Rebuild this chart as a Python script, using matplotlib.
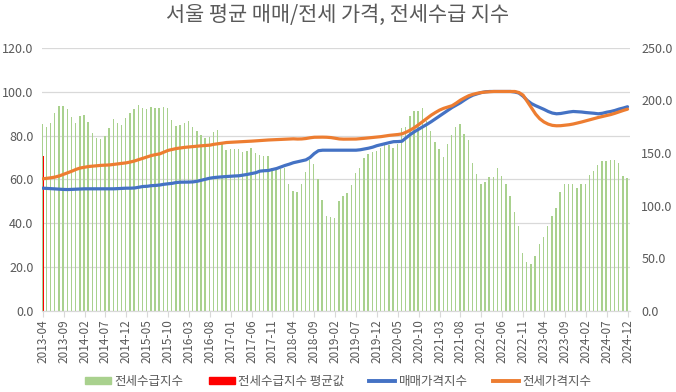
import numpy as np
import pandas as pd
import matplotlib
matplotlib.use('Agg')
import matplotlib.pyplot as plt
from matplotlib.ticker import FormatStrFormatter
from matplotlib.patches import Patch
from matplotlib.lines import Line2D

plt.rcParams['font.family'] = ['Noto Sans CJK KR', 'DejaVu Sans']

# monthly categories 2013-04 .. 2024-12
months = pd.date_range('2013-04-01', '2024-12-01', freq='MS').strftime('%Y-%m').tolist()

# 전세수급지수 (left axis)
supply = [85.1, 83.7, 85.5, 90.1, 93.3, 93.3, 91.9, 88.3, 85.5, 88.7,
          89.2, 86.0, 81.0, 78.7, 78.2, 79.6, 83.3, 87.4, 85.5, 84.6,
          87.8, 90.1, 91.9, 93.8, 92.4, 91.9, 92.8, 92.4, 92.4, 92.8,
          92.4, 86.9, 84.2, 84.6, 85.5, 86.5, 83.7, 81.9, 80.1, 78.7,
          79.1, 81.4, 82.3, 76.0, 73.2, 73.7, 73.7, 73.7, 72.3, 72.8,
          74.1, 71.8, 70.9, 70.5, 70.5, 65.0, 64.1, 64.5, 65.0, 57.7,
          54.9, 54.0, 58.1, 63.2, 68.6, 66.8, 60.0, 50.8, 43.5, 42.6,
          42.2, 49.9, 52.2, 53.6, 57.2, 62.7, 65.4, 69.6, 71.4, 72.3,
          72.8, 74.1, 75.5, 75.5, 74.1, 76.0, 83.3, 83.7, 88.7, 91.0,
          91.4, 92.4, 86.5, 81.9, 76.9, 73.7, 70.0, 76.0, 80.1, 83.7,
          85.1, 80.5, 77.8, 67.3, 62.3, 57.7, 58.7, 60.9, 60.9, 65.0,
          61.3, 58.1, 52.2, 44.9, 38.5, 26.2, 22.5, 21.6, 24.8, 30.3,
          33.9, 38.5, 43.5, 46.7, 54.0, 57.7, 57.7, 58.1, 55.9, 57.7,
          57.7, 61.8, 63.6, 66.4, 68.2, 68.2, 68.6, 68.6, 67.3, 61.3,
          60.4]

# 전세수급지수 평균값 (only the first category)
supply_avg = [70.5] + [np.nan] * (len(months) - 1)

# 매매가격지수 (right axis)
sale_idx = [116.6, 116.4, 116.2, 115.9, 115.6, 115.4, 115.3, 115.5, 115.8, 116.0,
            116.0, 116.0, 116.0, 116.0, 116.0, 116.0, 116.0, 116.0, 116.2, 116.5,
            116.6, 116.6, 116.8, 117.5, 118.2, 118.4, 119.0, 119.2, 119.6, 120.3,
            120.7, 121.2, 122.0, 122.3, 122.3, 122.4, 122.6, 123.2, 124.2, 125.2,
            126.1, 126.7, 127.1, 127.4, 127.7, 128.0, 128.2, 128.4, 129.0, 129.7,
            130.5, 131.3, 132.8, 133.2, 133.4, 134.3, 135.3, 136.8, 138.2, 139.4,
            140.8, 141.7, 142.5, 143.5, 145.8, 149.5, 152.2, 152.7, 152.7, 152.7,
            152.7, 152.7, 152.7, 152.7, 152.7, 152.7, 153.1, 153.8, 154.6, 155.6,
            157.0, 158.0, 158.9, 159.9, 160.8, 160.9, 161.2, 164.5, 167.6, 170.3,
            172.7, 175.0, 177.3, 179.8, 182.5, 185.2, 188.0, 190.6, 193.3, 195.6,
            197.8, 200.5, 203.0, 205.0, 206.3, 207.5, 208.2, 208.5, 208.5, 208.5,
            208.5, 208.5, 208.5, 208.0, 207.0, 204.0, 200.0, 197.0, 195.0, 193.3,
            191.5, 189.5, 188.0, 187.3, 187.6, 188.3, 189.0, 189.5, 189.3, 189.0,
            188.5, 188.2, 187.8, 187.3, 187.8, 188.8, 189.5, 190.5, 191.8, 192.8,
            194.0]

# 전세가격지수 (right axis)
jeonse_idx = [125.5, 126.0, 126.5, 127.2, 128.3, 129.8, 131.3, 132.8, 134.5, 135.8,
              136.5, 137.2, 137.6, 138.0, 138.3, 138.5, 138.7, 139.2, 139.7, 140.2,
              140.7, 141.5, 142.5, 143.8, 145.1, 146.3, 147.6, 148.5, 149.2, 150.8,
              152.5, 153.4, 154.3, 154.9, 155.4, 155.8, 156.3, 156.6, 156.9, 157.2,
              157.5, 158.3, 158.8, 159.4, 160.0, 160.2, 160.4, 160.6, 160.8, 161.0,
              161.3, 161.6, 161.9, 162.1, 162.4, 162.6, 162.8, 163.0, 163.2, 163.4,
              163.5, 163.3, 163.4, 163.8, 164.5, 165.0, 165.1, 165.1, 165.0, 164.7,
              164.0, 163.4, 163.2, 163.2, 163.2, 163.3, 163.6, 164.0, 164.4, 164.8,
              165.1, 165.6, 166.2, 166.8, 167.2, 167.6, 168.2, 169.8, 171.8, 174.2,
              177.0, 180.0, 183.0, 186.0, 188.5, 190.8, 192.5, 193.8, 195.0, 197.5,
              200.3, 202.5, 204.5, 205.8, 206.8, 207.5, 208.0, 208.3, 208.5, 208.5,
              208.5, 208.5, 208.5, 208.5, 207.5, 205.0, 199.0, 193.0, 187.0, 182.5,
              179.5, 177.5, 176.3, 175.9, 176.0, 176.4, 176.9, 177.6, 178.5, 179.5,
              180.6, 181.6, 182.8, 183.8, 184.7, 185.6, 186.6, 187.8, 189.2, 190.5,
              191.7]

title = '서울 평균 매매/전세 가격, 전세수급 지수'
c_green, c_red, c_blue, c_orange = '#A9D18E', '#FF0000', '#4472C4', '#ED7D31'
txt = '#595959'
grid = '#D9D9D9'

x = np.arange(len(months))

fig = plt.figure(figsize=(6.76, 3.92), dpi=100)
ax = fig.add_axes([0.062, 0.207, 0.870, 0.671])
ax2 = ax.twinx()

ax.bar(x - 0.12, supply, width=0.34, color=c_green, zorder=2)
ax.bar(x + 0.2, supply_avg, width=0.26, color=c_red, zorder=2)
ax2.plot(x, sale_idx, color=c_blue, lw=2.3, solid_capstyle='round')
ax2.plot(x, jeonse_idx, color=c_orange, lw=2.3, solid_capstyle='round')

ax.set_xlim(-0.2, 140.6)
ax.set_ylim(0, 120)
ax2.set_ylim(0, 250)
ax.set_yticks(np.arange(0, 121, 20))
ax2.set_yticks(np.arange(0, 251, 50))
ax.yaxis.set_major_formatter(FormatStrFormatter('%.1f'))
ax2.yaxis.set_major_formatter(FormatStrFormatter('%.1f'))

ax.set_xticks(x[::5])
ax.set_xticklabels(months[::5], rotation=90, fontsize=8.5, color=txt)
ax.tick_params(axis='x', length=4, color=grid, pad=2)
ax.tick_params(axis='y', length=0, labelsize=9, labelcolor=txt, pad=6)
ax2.tick_params(axis='y', length=0, labelsize=9, labelcolor=txt, pad=8)

ax.grid(axis='y', color=grid, lw=0.9, zorder=0)
ax.set_axisbelow(True)
for a in (ax, ax2):
    for s in ('top', 'left', 'right'):
        a.spines[s].set_visible(False)
    a.spines['bottom'].set_color(grid)

fig.suptitle(title, x=0.5, y=0.99, fontsize=15, color=txt)

handles = [Patch(color=c_green), Patch(color=c_red),
           Line2D([], [], color=c_blue, lw=2.8), Line2D([], [], color=c_orange, lw=2.8)]
labels = ['전세수급지수', '전세수급지수 평균값', '매매가격지수', '전세가격지수']
fig.legend(handles, labels, loc='lower center', bbox_to_anchor=(0.5, -0.018), ncol=4,
           frameon=False, fontsize=9, labelcolor=txt, handlelength=2.1,
           handleheight=0.5, columnspacing=2.0, handletextpad=0.25)

fig.savefig('out.png', dpi=100)
